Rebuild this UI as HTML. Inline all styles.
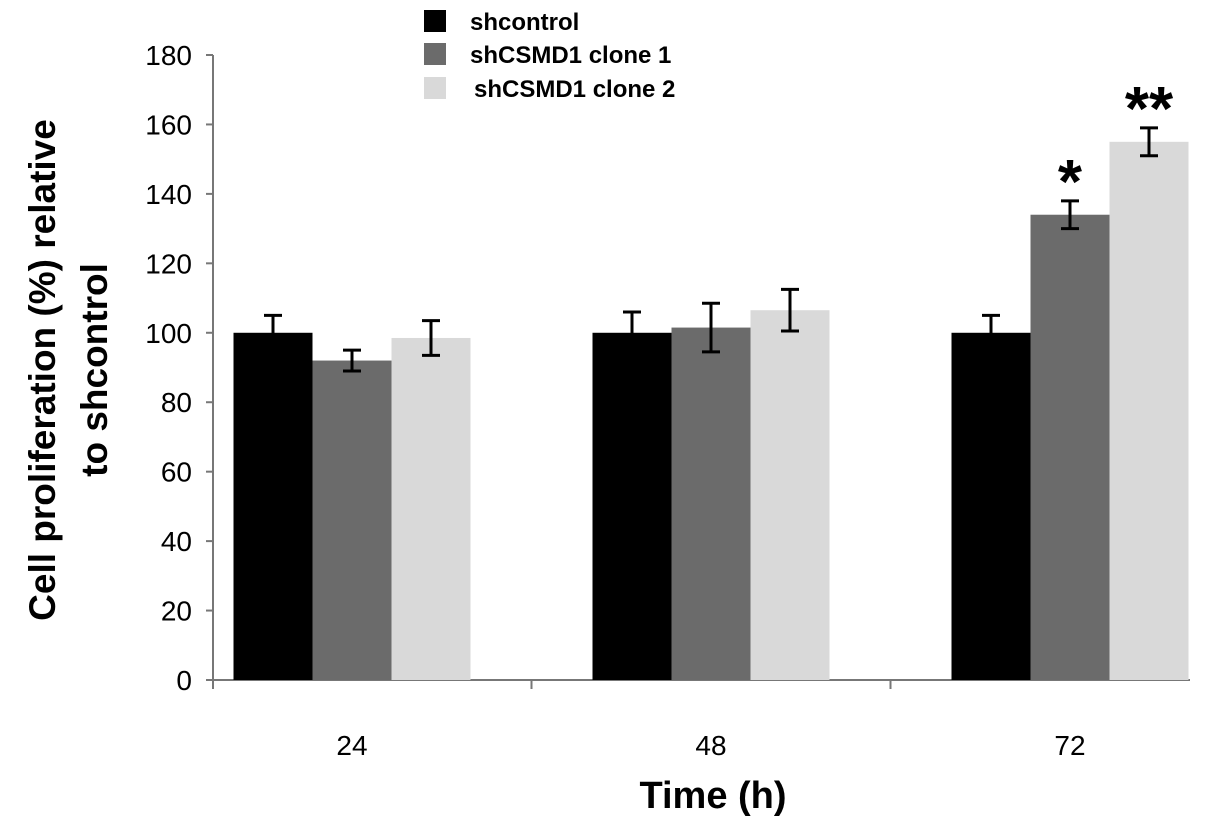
<!DOCTYPE html>
<html><head><meta charset="utf-8"><style>
body{margin:0;background:#fff}
svg{display:block;font-family:"Liberation Sans",Arial,sans-serif}
</style></head><body>
<svg id="chart" width="1205" height="823" viewBox="0 0 1205 823">
<g id="axes"></g><g id="bars"></g>
<g>
<rect x="424" y="10" width="22" height="22" fill="#000"/>
<text x="470" y="30" font-size="24" font-weight="bold">shcontrol</text>
<rect x="424" y="43" width="22" height="22" fill="#6b6b6b"/>
<text x="470" y="63" font-size="24" font-weight="bold">shCSMD1 clone 1</text>
<rect x="424" y="77" width="22" height="22" fill="#d9d9d9"/>
<text x="474" y="97" font-size="24" font-weight="bold">shCSMD1 clone 2</text>
</g>
<text transform="translate(55,370) rotate(-90)" text-anchor="middle" font-size="37" font-weight="bold">Cell proliferation (%)  relative</text>
<text transform="translate(107,370) rotate(-90)" text-anchor="middle" font-size="37" font-weight="bold">to shcontrol</text>
<text x="713" y="808" text-anchor="middle" font-size="38" font-weight="bold">Time (h)</text>
</svg>
<script>
const categories=["24","48","72"];
const shcontrol=[100,100,100];
const clone1=[92,101.5,134];
const clone2=[98.5,106.5,155];
const errControl=[5,6,5];
const errClone1=[3,7,4];
const errClone2=[5,6,4];
const yTicks=[0,20,40,60,80,100,120,140,160,180];
const sigLabels=[["","",""],["","","*"],["","","**"]];
const ns="http://www.w3.org/2000/svg";
const x0=213,x1=1190,y0=680,yTop=55,yMax=180;
const y=v=>y0-(v/yMax)*(y0-yTop);
const gw=359,c0=352;
const cxOf=i=>c0+gw*i;
const bw=79;
function mk(tag,attrs,parent){const e=document.createElementNS(ns,tag);for(const k in attrs)e.setAttribute(k,attrs[k]);parent.appendChild(e);return e;}
const axes=document.getElementById('axes'),bars=document.getElementById('bars');
let l=mk('line',{x1:x0,y1:yTop,x2:x0,y2:y0,stroke:'#777','stroke-width':2},axes);


l=mk('line',{x1:x0,y1:y0,x2:x1,y2:y0,stroke:'#777','stroke-width':2},axes);


yTicks.forEach(v=>{
 const t=mk('line',{x1:x0-7,y1:y(v),x2:x0,y2:y(v),stroke:'#777','stroke-width':2},axes);
 
 
 const tx=mk('text',{x:192,y:y(v)+10,'text-anchor':'end','font-size':28},axes);tx.textContent=v;
 
 
});
const tickXs=[x0];
for(let i=1;i<categories.length;i++)tickXs.push(cxOf(i)-gw/2);
tickXs.forEach(tx0=>{
 const t=mk('line',{x1:tx0,y1:y0,x2:tx0,y2:y0+9,stroke:'#777','stroke-width':2},axes);
 
 
});
const series=[[shcontrol,errControl,'#000'],[clone1,errClone1,'#6b6b6b'],[clone2,errClone2,'#d9d9d9']];
categories.forEach((c,i)=>{
 const cx=cxOf(i);
 const tx=mk('text',{x:cx,y:755,'text-anchor':'middle','font-size':28},axes);tx.textContent=c;
 
 
 series.forEach((s,j)=>{
  const v=s[0][i],e=s[1][i];
  const bx=cx-1.5*bw+j*bw;
  const r=mk('rect',{x:bx,y:y(v),width:bw,height:y0-y(v),fill:s[2]},bars);
  
  
  const mx=bx+bw/2;
  const g=mk('g',{stroke:'#000','stroke-width':3},bars);
  
  
  mk('line',{x1:mx,y1:y(v+e),x2:mx,y2:y(v-e)},g);
  mk('line',{x1:mx-9,y1:y(v+e),x2:mx+9,y2:y(v+e)},g);
  mk('line',{x1:mx-9,y1:y(v-e),x2:mx+9,y2:y(v-e)},g);
  const sl=sigLabels[j][i];
  if(sl){const st=mk('text',{x:mx,y:y(v+e)+2,'text-anchor':'middle','font-size':62,'font-weight':'bold'},bars);st.textContent=sl;
   
   }
 });
});
</script>
</body></html>
